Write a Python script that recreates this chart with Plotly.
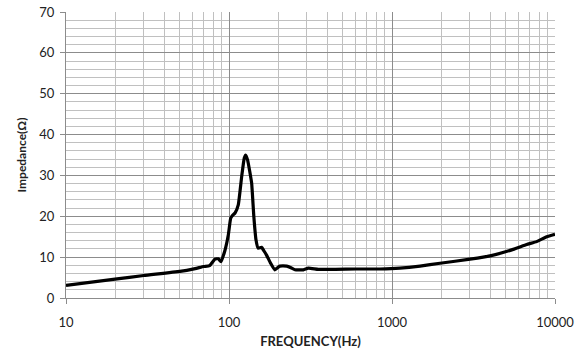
import plotly.graph_objects as go

freq_hz = [10, 20, 30, 50, 62, 70, 76, 82, 86, 89.3, 94.5, 99, 102.4, 105, 108.9, 114, 119.6, 124, 126.6, 130, 134, 137.7, 142, 146.5, 151, 158.5, 164, 170, 180, 191, 205, 226, 240, 254, 286, 307, 353, 450, 600, 843, 1119, 1486, 1970, 3010, 3995, 5540, 6700, 7710, 8890, 10000]
impedance_ohm = [3.1, 4.6, 5.5, 6.5, 7.2, 7.7, 7.9, 9.5, 9.6, 8.9, 11.7, 15.4, 19.5, 20.2, 20.8, 22.8, 29.7, 34.2, 35.0, 33.8, 31.0, 28.1, 20.0, 14.2, 12.2, 12.4, 11.5, 10.5, 8.5, 6.9, 7.8, 7.8, 7.4, 6.9, 6.9, 7.3, 7.0, 7.0, 7.1, 7.1, 7.3, 7.8, 8.5, 9.5, 10.3, 11.9, 13.1, 13.8, 15.0, 15.6]

x_tick_vals = [10, 100, 1000, 10000]
x_tick_text = ["10", "100", "1000", "10000"]
x_minor_vals = [d * m for d in [10, 100, 1000] for m in range(2, 10)]
y_tick_vals = [0, 10, 20, 30, 40, 50, 60, 70]

font_family = "Lato, 'Open Sans', 'Liberation Sans', sans-serif"

fig = go.Figure()
fig.add_trace(go.Scatter(
    x=freq_hz, y=impedance_ohm, mode="lines",
    line=dict(color="black", width=3.2, shape="spline", smoothing=0.4),
    showlegend=False, hoverinfo="skip",
))

fig.update_layout(
    width=586, height=359,
    margin=dict(l=66, r=31, t=12, b=61),
    paper_bgcolor="white", plot_bgcolor="white",
    font=dict(family=font_family, size=13, color="#222"),
)
fig.update_xaxes(
    type="log", range=[1, 4], automargin=False,
    tickvals=x_tick_vals, ticktext=x_tick_text,
    showgrid=True, gridcolor="#8c8c8c", gridwidth=1,
    minor=dict(showgrid=True, gridcolor="#c0c0c0", gridwidth=1, tickvals=x_minor_vals),
    ticks="outside", ticklen=5, tickcolor="#8c8c8c",
    ticklabelstandoff=7,
    showline=True, linecolor="#8c8c8c", linewidth=1, mirror=False,
    zeroline=False,
    tickfont=dict(size=13),
    title=dict(text="<b>FREQUENCY(Hz)</b>", font=dict(size=13), standoff=8),
)
fig.update_yaxes(
    range=[0, 70], automargin=False,
    tickvals=y_tick_vals,
    showgrid=True, gridcolor="#8c8c8c", gridwidth=1,
    minor=dict(showgrid=True, gridcolor="#c0c0c0", gridwidth=1, dtick=2),
    ticks="outside", ticklen=5, tickcolor="#8c8c8c",
    ticklabelstandoff=3,
    showline=True, linecolor="#8c8c8c", linewidth=1,
    zeroline=False,
    tickfont=dict(size=13),
    title=dict(text="<b>Impedance(Ω)</b>", font=dict(size=12), standoff=10),
)

fig.write_html(
    "out.html",
    config={"displayModeBar": False},
    post_script="document.body.style.margin='0';document.body.style.overflow='hidden';",
)
